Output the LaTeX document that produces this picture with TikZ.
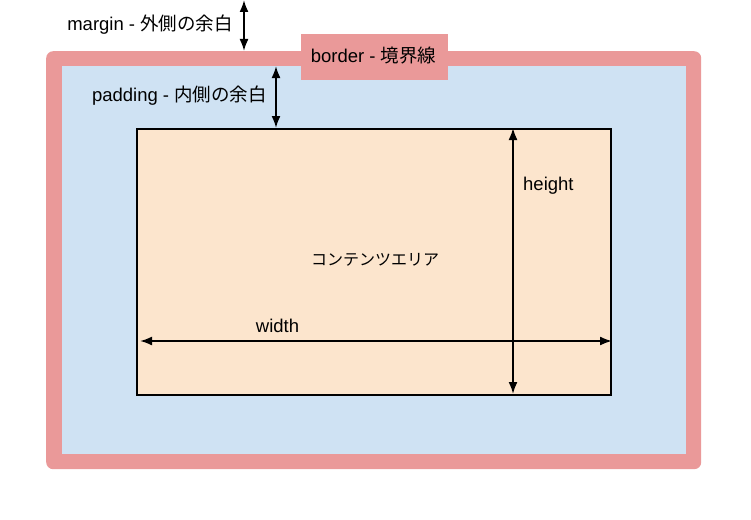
\documentclass[tikz,border=0pt]{standalone}
\usepackage{fontspec}
\setmainfont{Liberation Sans}
\newfontfamily\cjk{Noto Sans CJK JP}
\usetikzlibrary{arrows.meta}
\definecolor{bordpink}{HTML}{EA9999}
\definecolor{padblue}{HTML}{CFE2F3}
\definecolor{contpeach}{HTML}{FCE5CD}
\begin{document}
\begin{tikzpicture}[x=1pt,y=-1pt,
  lbl/.style={inner sep=0pt,font=\fontsize{18.5}{22}\selectfont,text=black},
  dimarrow/.style={{Latex[length=12pt,width=9pt]}-{Latex[length=12pt,width=9pt]},line width=1.9pt}]
\useasboundingbox (0,0) rectangle (751,519);
% border area
\node[fill=bordpink,rounded corners=7pt,minimum width=655pt,minimum height=418pt,inner sep=0pt,anchor=north west] (borderbox) at (46,51) {};
% padding area
\node[fill=padblue,minimum width=624pt,minimum height=388pt,inner sep=0pt,anchor=north west] (padbox) at (62,66) {};
% content area
\node[fill=contpeach,draw=black,line width=1.6pt,minimum width=474pt,minimum height=266pt,inner sep=0pt,anchor=north west] (content) at (136,128) {};
\node[lbl,font=\fontsize{16}{19}\selectfont] (contentlbl) at (375,260) {\cjk コンテンツエリア};
% border label
\node[fill=bordpink,minimum width=147pt,minimum height=45pt,inner sep=0pt] (borderlbl) at (374,57) {};
\node[lbl] (bordertxt) at (373.5,56) {border - {\cjk 境界線}};
% margin
\coordinate (mtop) at (244,0);
\coordinate (mbot) at (244,51);
\draw[dimarrow] (mtop) -- (mbot);
\node[lbl,anchor=east] (margintxt) at (233,25) {margin - {\cjk 外側の余白}};
% padding
\coordinate (ptop) at (276,66);
\coordinate (pbot) at (276,128);
\draw[dimarrow] (ptop) -- (pbot);
\node[lbl,anchor=east] (paddingtxt) at (267,96) {padding - {\cjk 内側の余白}};
% height
\coordinate (htop) at (513,128);
\coordinate (hbot) at (513,394);
\draw[dimarrow] (htop) -- (hbot);
\node[lbl,anchor=west] (heighttxt) at (523,186) {height};
% width
\coordinate (wleft) at (140,341);
\coordinate (wright) at (612,341);
\draw[dimarrow] (wleft) -- (wright);
\node[lbl] (widthtxt) at (277.5,326) {width};
\end{tikzpicture}
\end{document}
